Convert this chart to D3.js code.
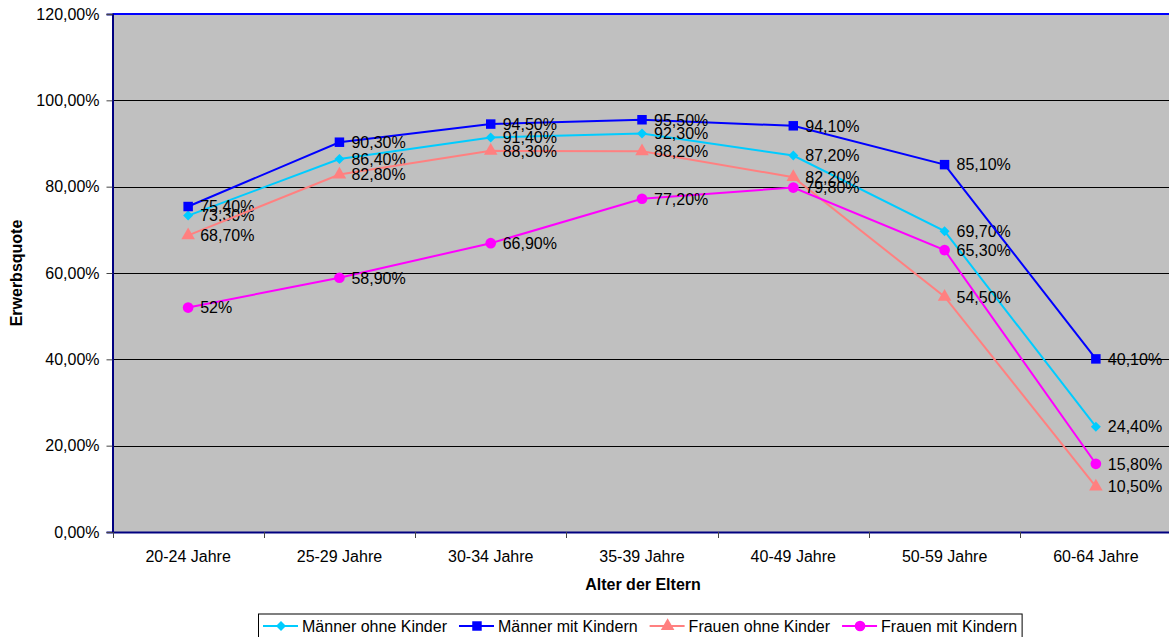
<!DOCTYPE html>
<html>
<head>
<meta charset="utf-8">
<script src="https://cdn.jsdelivr.net/npm/d3@7"></script>
<style>
  html, body { margin: 0; padding: 0; background: #fff; }
  svg { display: block; font-family: Arial, "Liberation Sans", sans-serif; }
</style>
</head>
<body>
<svg id="chart" width="1169" height="637"></svg>
<script>
// Age groups of the parents
const categories = ["20-24 Jahre", "25-29 Jahre", "30-34 Jahre", "35-39 Jahre", "40-49 Jahre", "50-59 Jahre", "60-64 Jahre"];

// Employment rates in percent per series
const maennerOhneKinder = [73.3, 86.4, 91.4, 92.3, 87.2, 69.7, 24.4];
const maennerMitKindern = [75.4, 90.3, 94.5, 95.5, 94.1, 85.1, 40.1];
const frauenOhneKinder  = [68.7, 82.8, 88.3, 88.2, 82.2, 54.5, 10.5];
const frauenMitKindern  = [52.0, 58.9, 66.9, 77.2, 79.8, 65.3, 15.8];

const seriesNames = ["Männer ohne Kinder", "Männer mit Kindern", "Frauen ohne Kinder", "Frauen mit Kindern"];
const yTicks = [0, 20, 40, 60, 80, 100, 120];

// Diamond is drawn as a square turned by 45 degrees
const seriesStyle = [
  { color: "#00CCFF", symbol: d3.symbolSquare,   size: 50, rotate: 45 },
  { color: "#0000FF", symbol: d3.symbolSquare,   size: 90, rotate: 0 },
  { color: "#FF8080", symbol: d3.symbolTriangle, size: 80, rotate: 0 },
  { color: "#FF00FF", symbol: d3.symbolCircle,   size: 90, rotate: 0 }
];

const series = [maennerOhneKinder, maennerMitKindern, frauenOhneKinder, frauenMitKindern]
  .map((values, i) => ({ name: seriesNames[i], values, ...seriesStyle[i] }));

const svg = d3.select("#chart");
const plot = { left: 112.5, right: 1171.5, top: 14, bottom: 532 };

const x = d3.scaleBand().domain(categories).range([plot.left, plot.right]).padding(0);
const y = d3.scaleLinear().domain([0, 120]).range([plot.bottom, plot.top]);
const cx = c => x(c) + x.bandwidth() / 2;

const pctAxis = v => v.toFixed(2).replace(".", ",") + "%";
const pctLabel = v => Number.isInteger(v) ? v + "%" : v.toFixed(2).replace(".", ",") + "%";

// Plot background
svg.append("rect")
  .attr("x", plot.left).attr("y", plot.top)
  .attr("width", plot.right - plot.left).attr("height", plot.bottom - plot.top)
  .attr("fill", "#C0C0C0");

// Horizontal gridlines
svg.append("g").selectAll("line")
  .data(yTicks.filter(t => t > 0 && t < 120))
  .join("line")
  .attr("x1", plot.left).attr("x2", plot.right)
  .attr("y1", d => Math.round(y(d)) + 0.5).attr("y2", d => Math.round(y(d)) + 0.5)
  .attr("stroke", "#000").attr("stroke-width", 1);

// Top border
svg.append("line")
  .attr("x1", plot.left).attr("x2", plot.right)
  .attr("y1", plot.top).attr("y2", plot.top)
  .attr("stroke", "#0000FF").attr("stroke-width", 2);

// Y axis
const yAxis = svg.append("g")
  .attr("transform", `translate(${plot.left},0)`)
  .call(d3.axisLeft(y).tickValues(yTicks).tickFormat(pctAxis).tickSize(6).tickPadding(7));
yAxis.select(".domain").attr("stroke", "#000080").attr("stroke-width", 2);
yAxis.selectAll(".tick line").attr("stroke", "#444");
yAxis.selectAll(".tick text").attr("font-size", 16).attr("fill", "#000")
  .attr("font-family", "Arial, 'Liberation Sans', sans-serif");

// X axis labels
const xAxis = svg.append("g")
  .attr("transform", `translate(0,${plot.bottom})`)
  .call(d3.axisBottom(x).tickSize(0).tickPadding(19));
xAxis.select(".domain").attr("stroke", "#000080").attr("stroke-width", 2);
xAxis.selectAll(".tick text").attr("font-size", 16).attr("fill", "#000")
  .attr("font-family", "Arial, 'Liberation Sans', sans-serif");

// X tick marks at category boundaries
svg.append("g").selectAll("line")
  .data(d3.range(categories.length + 1))
  .join("line")
  .attr("x1", i => Math.round(plot.left + i * x.bandwidth()) + 0.5)
  .attr("x2", i => Math.round(plot.left + i * x.bandwidth()) + 0.5)
  .attr("y1", plot.bottom).attr("y2", plot.bottom + 6)
  .attr("stroke", "#444");

// Axis titles
svg.append("text")
  .attr("x", 643).attr("y", 590)
  .attr("text-anchor", "middle").attr("font-size", 16).attr("font-weight", "bold")
  .text("Alter der Eltern");

svg.append("text")
  .attr("transform", `translate(22,${(plot.top + plot.bottom) / 2}) rotate(-90)`)
  .attr("text-anchor", "middle").attr("font-size", 16).attr("font-weight", "bold")
  .text("Erwerbsquote");

// Series lines and markers
const line = d3.line().x((d, i) => cx(categories[i])).y(d => y(d));
const seriesG = svg.append("g").selectAll("g").data(series).join("g");

seriesG.append("path")
  .attr("d", s => line(s.values))
  .attr("fill", "none")
  .attr("stroke", s => s.color)
  .attr("stroke-width", 2);

seriesG.each(function (s) {
  d3.select(this).selectAll("path.marker")
    .data(s.values)
    .join("path")
    .attr("class", "marker")
    .attr("transform", (d, i) => `translate(${cx(categories[i])},${y(d)}) rotate(${s.rotate})`)
    .attr("d", d3.symbol().type(s.symbol).size(s.size))
    .attr("fill", s.color);
});

// Value labels
seriesG.each(function (s) {
  d3.select(this).selectAll("text.val")
    .data(s.values)
    .join("text")
    .attr("class", "val")
    .attr("x", (d, i) => cx(categories[i]) + 12)
    .attr("y", d => y(d))
    .attr("dy", "0.36em")
    .attr("font-size", 16)
    .attr("fill", "#000")
    .text(d => pctLabel(d));
});

// Legend
const legend = svg.append("g");
const legendBox = legend.append("rect")
  .attr("y", 614).attr("height", 30)
  .attr("fill", "#fff").attr("stroke", "#000").attr("stroke-width", 1);

let lx = 263;
series.forEach(s => {
  const g = legend.append("g");
  g.append("line")
    .attr("x1", lx).attr("x2", lx + 35)
    .attr("y1", 626).attr("y2", 626)
    .attr("stroke", s.color).attr("stroke-width", 2);
  g.append("path")
    .attr("transform", `translate(${lx + 18},626) rotate(${s.rotate})`)
    .attr("d", d3.symbol().type(s.symbol).size(s.size))
    .attr("fill", s.color);
  const t = g.append("text")
    .attr("x", lx + 39).attr("y", 632)
    .attr("font-size", 16).attr("fill", "#000")
    .text(s.name);
  lx += 39 + t.node().getComputedTextLength() + 12;
});
legendBox.attr("x", 258.5).attr("width", lx - 12 + 5 - 258.5);
</script>
</body>
</html>
